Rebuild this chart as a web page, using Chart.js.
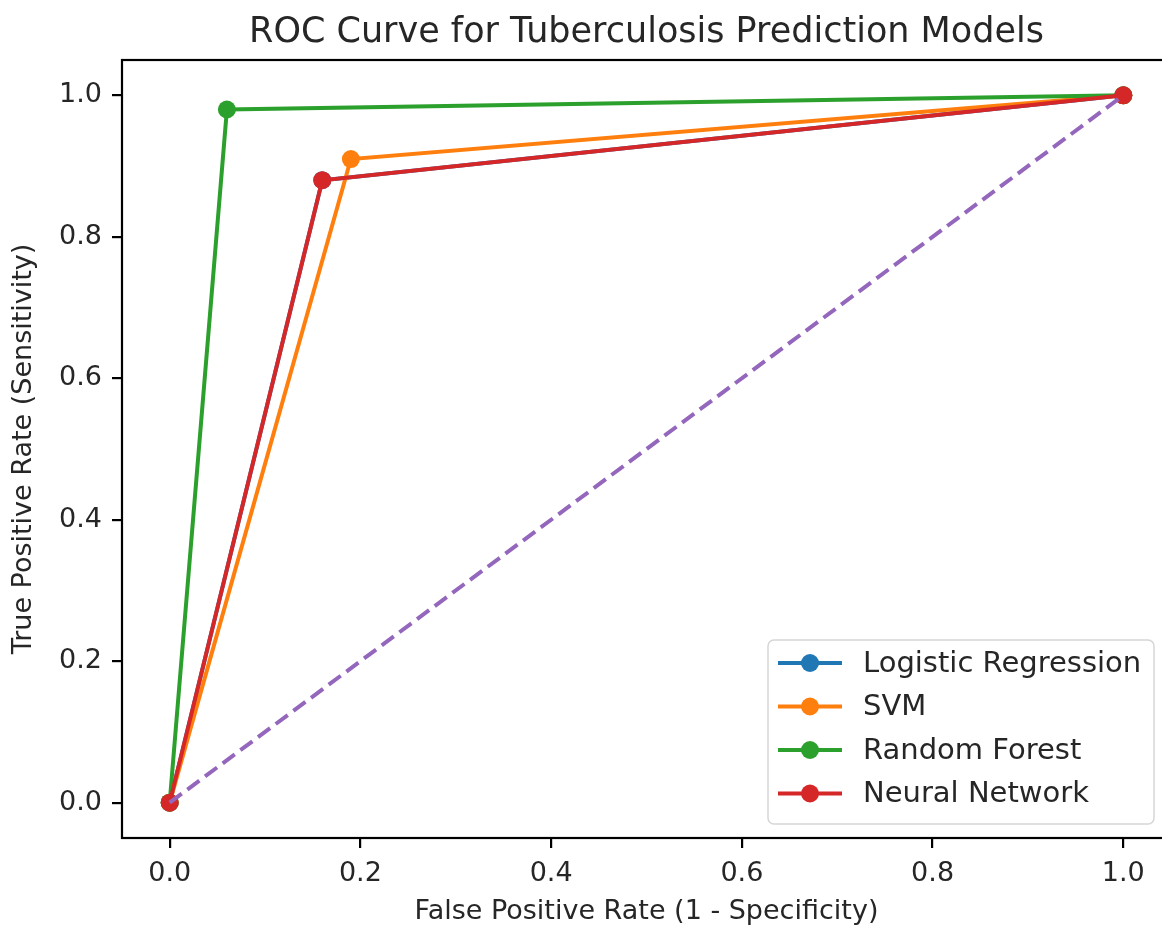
<!DOCTYPE html>
<html>
<head>
<meta charset="utf-8">
<title>ROC Curve for Tuberculosis Prediction Models</title>
<script src="https://cdn.jsdelivr.net/npm/chart.js@4.4.1/dist/chart.umd.min.js"></script>
<style>
  html, body { margin: 0; padding: 0; background: #fff; overflow: hidden; }
  #roc { position: absolute; left: 0; top: 0; }
</style>
</head>
<body>
<canvas id="roc" width="1180" height="926"></canvas>
<script>
"use strict";

// values
var modelNames = ['Logistic Regression', 'SVM', 'Random Forest', 'Neural Network'];
var modelColors = ['#1f77b4', '#ff7f0e', '#2ca02c', '#d62728'];
var fprLogistic = [0, 0.16, 1];
var tprLogistic = [0, 0.88, 1];
var fprSvm = [0, 0.19, 1];
var tprSvm = [0, 0.91, 1];
var fprForest = [0, 0.06, 1];
var tprForest = [0, 0.98, 1];
var fprNeural = [0, 0.16, 1];
var tprNeural = [0, 0.88, 1];
var chanceLine = [0, 1];
var tickValues = [0, 0.2, 0.4, 0.6, 0.8, 1.0];
var tickLabels = ['0.0', '0.2', '0.4', '0.6', '0.8', '1.0'];

var FONT = "'DejaVu Sans', sans-serif";
var TEXT = '#262626';

function toPoints(xs, ys) {
    var pts = [];
    for (var i = 0; i < xs.length; i++) {
        pts.push({ x: xs[i], y: ys[i] });
    }
    return pts;
}

var curves = [
    [fprLogistic, tprLogistic],
    [fprSvm, tprSvm],
    [fprForest, tprForest],
    [fprNeural, tprNeural]
];

var datasets = [];
for (var i = 0; i < curves.length; i++) {
    datasets.push({
        label: modelNames[i],
        data: toPoints(curves[i][0], curves[i][1]),
        borderColor: modelColors[i],
        backgroundColor: modelColors[i],
        pointBackgroundColor: modelColors[i],
        pointBorderWidth: 0,
        pointRadius: 9,
        pointHoverRadius: 9,
        borderWidth: 4,
        tension: 0,
        order: 10 - i
    });
}
datasets.push({
    label: 'chance',
    data: toPoints(chanceLine, chanceLine),
    borderColor: '#9467bd',
    borderDash: [15, 7],
    borderWidth: 4,
    pointRadius: 0,
    order: 1
});

function fixTicks(scale) {
    scale.ticks = tickValues.map(function(v) { return { value: v }; });
}

function tickText(value) {
    var idx = tickValues.indexOf(value);
    return idx >= 0 ? tickLabels[idx] : '';
}

// frame, title, axis labels and legend the way matplotlib lays them out
var decorations = {
    id: 'decorations',
    afterDraw: function(chart) {
        var ctx = chart.ctx;
        var area = chart.chartArea;
        ctx.save();

        ctx.strokeStyle = '#000';
        ctx.lineWidth = 2.2;
        ctx.strokeRect(area.left, area.top, area.right - area.left, area.bottom - area.top);

        var midX = (area.left + area.right) / 2;
        ctx.fillStyle = TEXT;
        ctx.textAlign = 'center';
        ctx.textBaseline = 'alphabetic';
        ctx.font = '35px ' + FONT;
        ctx.fillText('ROC Curve for Tuberculosis Prediction Models', midX, 42);

        ctx.font = '27px ' + FONT;
        ctx.textBaseline = 'middle';
        ctx.fillText('False Positive Rate (1 - Specificity)', midX, 912);

        ctx.save();
        ctx.translate(24, (area.top + area.bottom) / 2);
        ctx.rotate(-Math.PI / 2);
        ctx.fillText('True Positive Rate (Sensitivity)', 0, 0);
        ctx.restore();

        // legend box
        var bx = 768, by = 640, bw = 386, bh = 184, r = 6;
        ctx.beginPath();
        ctx.moveTo(bx + r, by);
        ctx.arcTo(bx + bw, by, bx + bw, by + bh, r);
        ctx.arcTo(bx + bw, by + bh, bx, by + bh, r);
        ctx.arcTo(bx, by + bh, bx, by, r);
        ctx.arcTo(bx, by, bx + bw, by, r);
        ctx.closePath();
        ctx.fillStyle = 'rgba(255,255,255,0.8)';
        ctx.fill();
        ctx.strokeStyle = '#d6d6d6';
        ctx.lineWidth = 1.5;
        ctx.stroke();

        ctx.font = '29px ' + FONT;
        ctx.textAlign = 'left';
        ctx.textBaseline = 'middle';
        for (var k = 0; k < modelNames.length; k++) {
            var ry = 663 + k * 43.5;
            ctx.strokeStyle = modelColors[k];
            ctx.lineWidth = 4;
            ctx.beginPath();
            ctx.moveTo(778, ry);
            ctx.lineTo(842, ry);
            ctx.stroke();
            ctx.fillStyle = modelColors[k];
            ctx.beginPath();
            ctx.arc(810, ry, 9, 0, Math.PI * 2);
            ctx.fill();
            ctx.fillStyle = TEXT;
            ctx.fillText(modelNames[k], 863, ry + 1);
        }
        ctx.restore();
    }
};

var ctx = document.getElementById('roc').getContext('2d');
var rocChart = new Chart(ctx, {
    type: 'line',
    data: { datasets: datasets },
    options: {
        responsive: false,
        animation: false,
        devicePixelRatio: 1,
        // plot area ends just past the window edge, like the cropped reference
        layout: { padding: { left: 0, top: 60, right: 0, bottom: 0 } },
        plugins: {
            legend: { display: false },
            tooltip: { enabled: false },
            title: { display: false }
        },
        scales: {
            x: {
                type: 'linear',
                min: -0.05,
                max: 1.05,
                afterBuildTicks: fixTicks,
                afterFit: function(scale) { scale.height = 88; },
                border: { display: false },
                grid: { drawOnChartArea: false, drawTicks: true, tickLength: 10, color: '#000', lineWidth: 2.2 },
                ticks: {
                    callback: tickText,
                    autoSkip: false,
                    maxRotation: 0,
                    padding: 10,
                    color: TEXT,
                    font: { family: FONT, size: 27 }
                }
            },
            y: {
                type: 'linear',
                min: -0.05,
                max: 1.05,
                afterBuildTicks: fixTicks,
                afterFit: function(scale) { scale.width = 122; },
                border: { display: false },
                grid: { drawOnChartArea: false, drawTicks: true, tickLength: 10, color: '#000', lineWidth: 2.2 },
                ticks: {
                    callback: tickText,
                    autoSkip: false,
                    padding: 10,
                    color: TEXT,
                    font: { family: FONT, size: 27 }
                }
            }
        }
    },
    plugins: [decorations]
});
</script>
</body>
</html>
